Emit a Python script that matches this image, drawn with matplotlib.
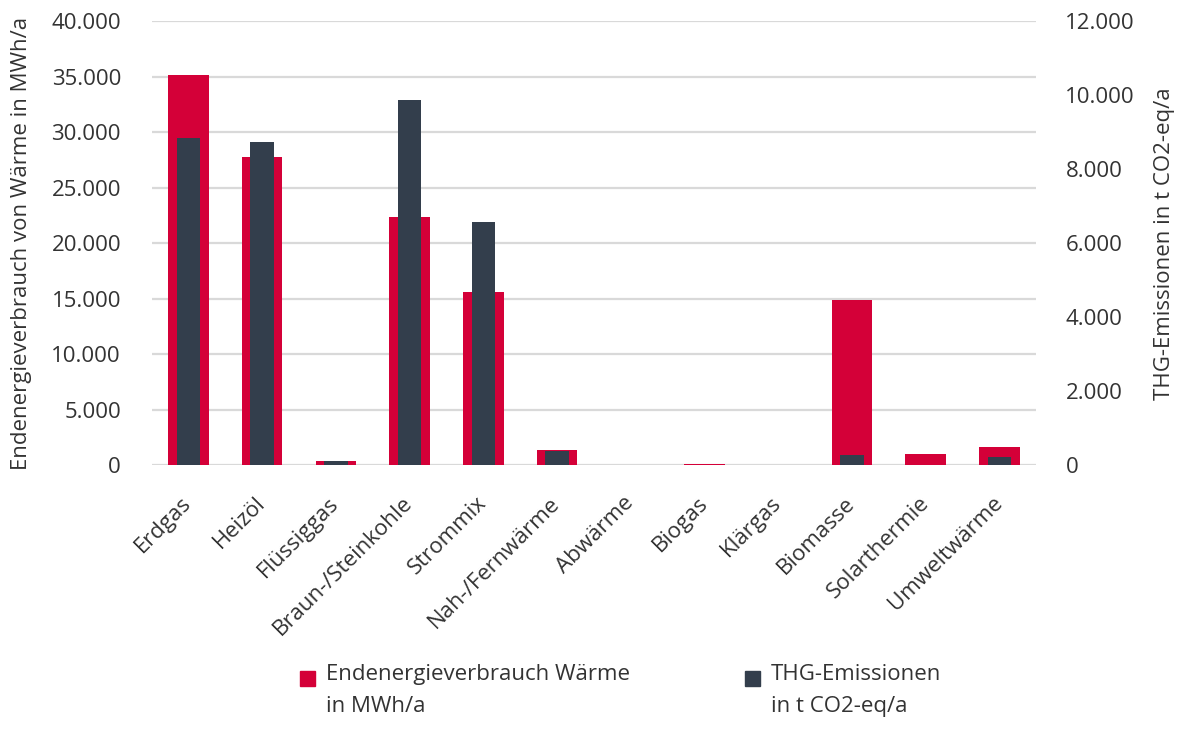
import matplotlib.pyplot as plt
import numpy as np
from matplotlib.patches import Rectangle
from matplotlib.ticker import FuncFormatter

plt.rcParams['font.family'] = ['Open Sans', 'DejaVu Sans']
plt.rcParams['font.size'] = 16

# Energieträger und Werte
kategorien = ['Erdgas', 'Heizöl', 'Flüssiggas', 'Braun-/Steinkohle', 'Strommix',
              'Nah-/Fernwärme', 'Abwärme', 'Biogas', 'Klärgas', 'Biomasse',
              'Solarthermie', 'Umweltwärme']
endenergie_mwh = [35100, 27800, 420, 22400, 15600, 1350, 0, 150, 0, 14900, 1050, 1700]
thg_t_co2 = [8850, 8730, 130, 9860, 6580, 400, 0, 0, 0, 290, 0, 220]

rot = '#D40038'
dunkel = '#333E4C'
textfarbe = '#333333'
gitter = '#D9D9D9'

def tausender(x, pos):
    return f'{x:,.0f}'.replace(',', '.')

fig = plt.figure(figsize=(11.87, 7.29), dpi=100)
ax = fig.add_axes([0.1277, 0.3615, 0.7453, 0.6097])
ax2 = ax.twinx()

x = np.arange(len(kategorien))
ax.bar(x, endenergie_mwh, width=0.55, color=rot, zorder=2)
ax2.bar(x, thg_t_co2, width=0.32, color=dunkel, zorder=2)

ax.set_xlim(-0.5, len(kategorien) - 0.5)
ax.set_ylim(0, 40000)
ax2.set_ylim(0, 12000)
ax.set_yticks(np.arange(0, 40001, 5000))
ax2.set_yticks(np.arange(0, 12001, 2000))
ax.yaxis.set_major_formatter(FuncFormatter(tausender))
ax2.yaxis.set_major_formatter(FuncFormatter(tausender))

ax.grid(axis='y', color=gitter, linewidth=1.6, zorder=0)
ax.set_axisbelow(True)
for a in (ax, ax2):
    for s in a.spines.values():
        s.set_visible(False)

ax.tick_params(axis='y', length=0, pad=22, colors=textfarbe)
ax2.tick_params(axis='y', length=0, pad=21, colors=textfarbe)
ax.set_xticks(x)
ax.set_xticklabels(kategorien, rotation=45, ha='right', va='center',
                   rotation_mode='anchor', color=textfarbe)
ax.tick_params(axis='x', length=0, pad=25)

ax.set_ylabel('Endenergieverbrauch von Wärme in MWh/a', color=textfarbe, labelpad=14)
ax2.set_ylabel('THG-Emissionen in t CO2-eq/a', color=textfarbe, labelpad=14)

# Legende unterhalb des Diagramms
legende = [(rot, 'Endenergieverbrauch Wärme\nin MWh/a', 300),
           (dunkel, 'THG-Emissionen\nin t CO2-eq/a', 745)]
for farbe, text, px in legende:
    fig.patches.append(Rectangle((px / 1187, 1 - 686 / 729), 15 / 1187, 15 / 729,
                                 transform=fig.transFigure, color=farbe))
    fig.text((px + 26) / 1187, 1 - 664 / 729, text, ha='left', va='top',
             color=textfarbe, fontsize=16, linespacing=1.7)

fig.savefig('out.png', dpi=100)
